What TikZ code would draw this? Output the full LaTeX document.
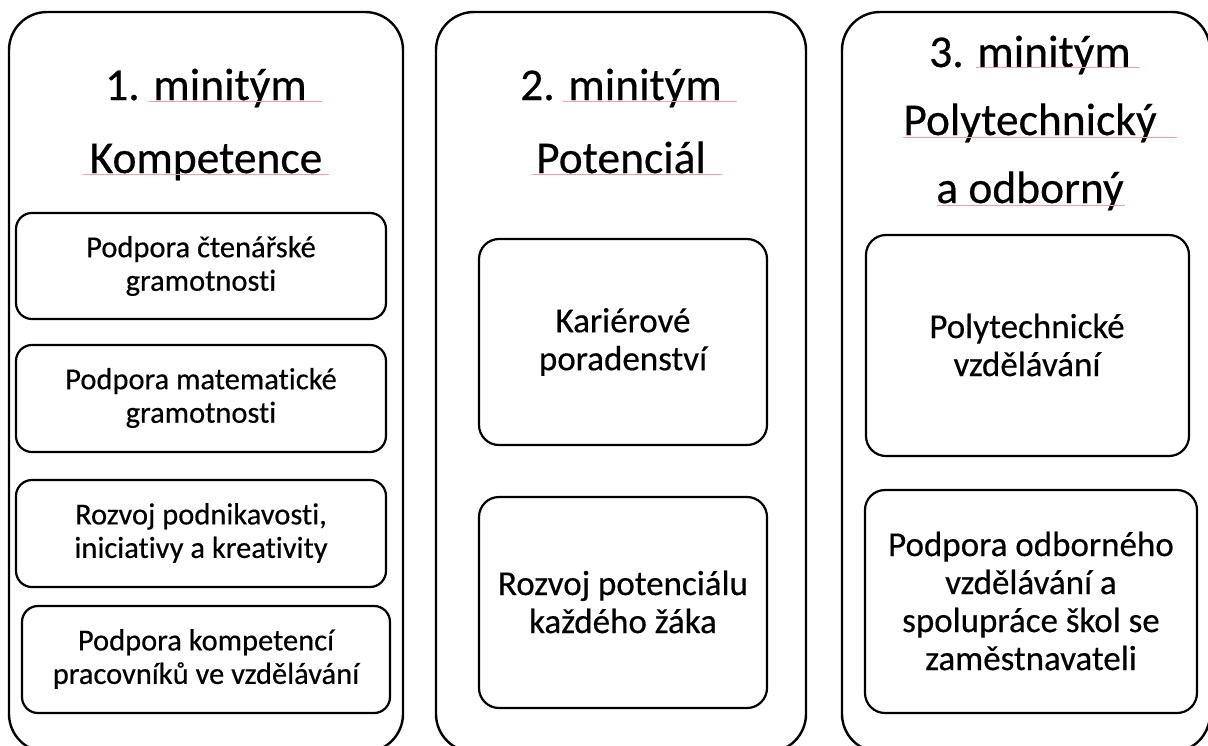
\documentclass[tikz,border=0pt]{standalone}
\usepackage{fontspec}
\setmainfont{Carlito}[FakeBold=0.4,Ligatures=NoCommon]
\begin{document}
\begin{tikzpicture}[x=1pt,y=-1pt,
  outer/.style={draw=black,line width=2.4pt,rounded corners=38pt},
  inner/.style={draw=black,line width=2.2pt,rounded corners=16pt},
  ttl/.style={anchor=base,inner sep=0pt,font=\fontsize{45.5}{54}\selectfont},
  smalltxt/.style={align=center,inner sep=0pt,font=\fontsize{30.5}{33.5}\selectfont},
  bigtxt/.style={align=center,inner sep=0pt,font=\fontsize{35}{38}\selectfont},
  spell/.style={draw={rgb,255:red,245;green,160;blue,165},line width=1pt}]
\useasboundingbox (0,0) rectangle (1208,745);
\fill[white] (0,0) rectangle (1208,745);
% outer panels
\draw[outer] (9,12) rectangle (403,752);
\draw[outer] (436,12) rectangle (806,752);
\draw[outer] (842,12) rectangle (1210,752);
% titles
\node[ttl] (t1a) at (206,100) {1. minitým};
\node[ttl] (t1b) at (206,173) {Kompetence};
\node[ttl] (t2a) at (621,100) {2. minitým};
\node[ttl] (t2b) at (621,173) {Potenciál};
\node[ttl] (t3a) at (1030,67) {3. minitým};
\node[ttl] (t3b) at (1030,135) {Polytechnický};
\node[ttl] (t3c) at (1030,203) {a odborný};
% spell-check underlines
\draw[spell] (149,101.5) -- (322,101.5);
\draw[spell] (83,174.5) -- (329,174.5);
\draw[spell] (563,101.5) -- (737,101.5);
\draw[spell] (532,174.5) -- (722,174.5);
\draw[spell] (976,67.5) -- (1140,67.5);
\draw[spell] (903,137) -- (1177,137);
\draw[spell] (937,205) -- (1125,205);
% inner boxes, panel 1
\draw[inner] (16,213) rectangle (386,319);
\node[smalltxt] (a) at (201,266) {Podpora čtenářské\\gramotnosti};
\draw[inner] (16,345) rectangle (386,452);
\node[smalltxt] (b) at (201,398) {Podpora matematické\\gramotnosti};
\draw[inner] (16,480) rectangle (386,587);
\node[smalltxt] (c) at (201,533) {Rozvoj podnikavosti,\\iniciativy a kreativity};
\draw[inner] (22,606) rectangle (390,713);
\node[smalltxt] (d) at (206,659) {Podpora kompetencí\\pracovníků ve vzdělávání};
% panel 2
\draw[inner,rounded corners=20pt] (479,239) rectangle (767,445);
\node[bigtxt] (e) at (623,342) {Kariérové\\poradenství};
\draw[inner,rounded corners=20pt] (479,497) rectangle (767,708);
\node[bigtxt] (f) at (623,602) {Rozvoj potenciálu\\každého žáka};
% panel 3
\draw[inner,rounded corners=20pt] (866,235) rectangle (1189,456);
\node[bigtxt] (g) at (1027,345) {Polytechnické\\vzdělávání};
\draw[inner,rounded corners=20pt] (865,490) rectangle (1197,713);
\node[bigtxt] (h) at (1031,601) {Podpora odborného\\vzdělávání a\\spolupráce škol se\\zaměstnavateli};
\end{tikzpicture}
\end{document}
